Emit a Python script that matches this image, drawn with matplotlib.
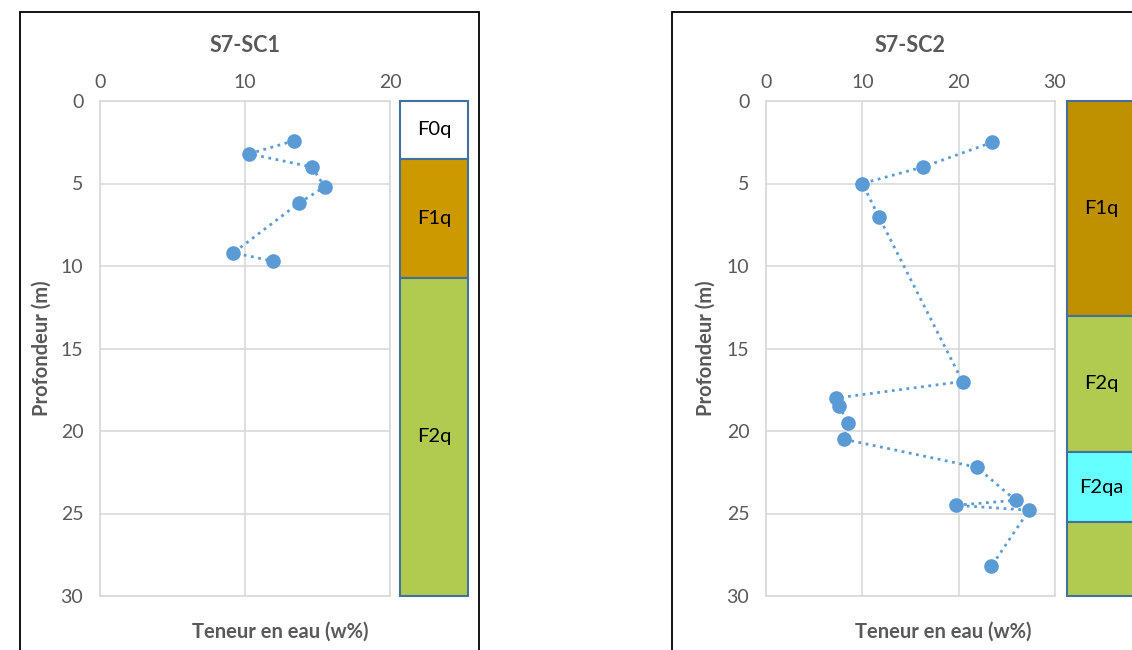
import matplotlib
matplotlib.use("Agg")
import matplotlib.pyplot as plt
from matplotlib.patches import Rectangle

plt.rcParams['font.family'] = ['Lato', 'DejaVu Sans']

# Sondage S7-SC1 : teneur en eau (w%) et profondeur (m)
sc1_w = [13.4, 10.3, 14.6, 15.5, 13.7, 9.2, 11.9]
sc1_z = [2.4, 3.2, 4.0, 5.2, 6.2, 9.2, 9.7]
sc1_layers = ["F0q", "F1q", "F2q"]
sc1_tops = [0, 3.5, 10.7]
sc1_bots = [3.5, 10.7, 30]
sc1_colors = ["#ffffff", "#cc9900", "#b0cb4f"]

# Sondage S7-SC2
sc2_w = [23.5, 16.3, 10.0, 11.7, 20.4, 7.3, 7.6, 8.5, 8.1, 21.9, 25.9, 19.7, 27.3, 23.4]
sc2_z = [2.5, 4.0, 5.0, 7.0, 17.0, 18.0, 18.5, 19.5, 20.5, 22.2, 24.2, 24.5, 24.8, 28.2]
sc2_layers = ["F1q", "F2q", "F2qa", ""]
sc2_tops = [0, 13.0, 21.3, 25.5]
sc2_bots = [13.0, 21.3, 25.5, 30]
sc2_colors = ["#bf9000", "#b0cb4f", "#66ffff", "#b0cb4f"]

W, H = 1132, 650
fig = plt.figure(figsize=(W / 100, H / 100), dpi=100)
fig.patch.set_facecolor("white")

def box(x0, y0, x1, y1):
    # pixels -> fraction de la figure
    return [x0 / W, 1 - y1 / H, (x1 - x0) / W, (y1 - y0) / H]

gray = "#595959"
blue = "#5b9bd5"

def profil(px, col_x, xmax, title, w, z, layers, tops, bots, colors, frame_x, label_x, ylab_x):
    # cadre du graphique
    fig.add_artist(Rectangle((frame_x[0] / W, -0.1), (frame_x[1] - frame_x[0]) / W,
                             1.1 - 12 / H, transform=fig.transFigure,
                             fill=False, edgecolor="black", lw=1.3))
    ax = fig.add_axes(box(px[0], 101, px[1], 596))
    ax.plot(w, z, ls=":", lw=2, color=blue, marker="o", ms=9.5, zorder=3)
    ax.set_xlim(0, xmax)
    ax.set_ylim(30, 0)
    ax.set_xticks(range(0, xmax + 1, 10))
    ax.set_yticks(range(0, 31, 5))
    ax.xaxis.tick_top()
    ax.tick_params(length=0, labelsize=14, labelcolor=gray, pad=7)
    ax.tick_params(axis="y", pad=12)
    ax.grid(True, color="#d9d9d9", lw=1.2)
    for s in ax.spines.values():
        s.set_color("#d9d9d9")
        s.set_linewidth(1.2)
    ax.set_axisbelow(True)
    fig.text((px[0] + px[1]) / 2 / W, 1 - 45 / H, title, ha="center", va="center",
             fontsize=15.5, fontweight="bold", color=gray)
    fig.text(label_x / W, 1 - 632 / H, "Teneur en eau (w%)", ha="center", va="center",
             fontsize=14.5, fontweight="bold", color=gray)
    fig.text(ylab_x / W, 1 - 348 / H, "Profondeur (m)", ha="center", va="center",
             rotation=90, fontsize=14.5, fontweight="bold", color=gray)

    # colonne lithologique
    cx = fig.add_axes(box(col_x, 101, col_x + 68, 596))
    cx.set_xlim(0, 1)
    cx.set_ylim(30, 0)
    cx.axis("off")
    for name, t, b, c in zip(layers, tops, bots, colors):
        cx.add_patch(Rectangle((0, t), 1, b - t, facecolor=c, edgecolor="#41719c",
                               lw=1.5, clip_on=False))
        if name:
            cx.text(0.5, (t + b) / 2, name, ha="center", va="center", fontsize=14.5,
                    color="black")
    return ax

profil((100, 390), 400, 20, "S7-SC1", sc1_w, sc1_z, sc1_layers, sc1_tops, sc1_bots,
       sc1_colors, (20, 479), 280, 42)
profil((766, 1055), 1067, 30, "S7-SC2", sc2_w, sc2_z, sc2_layers, sc2_tops, sc2_bots,
       sc2_colors, (672, 1200), 943, 706)

fig.savefig("out.png", dpi=100)
